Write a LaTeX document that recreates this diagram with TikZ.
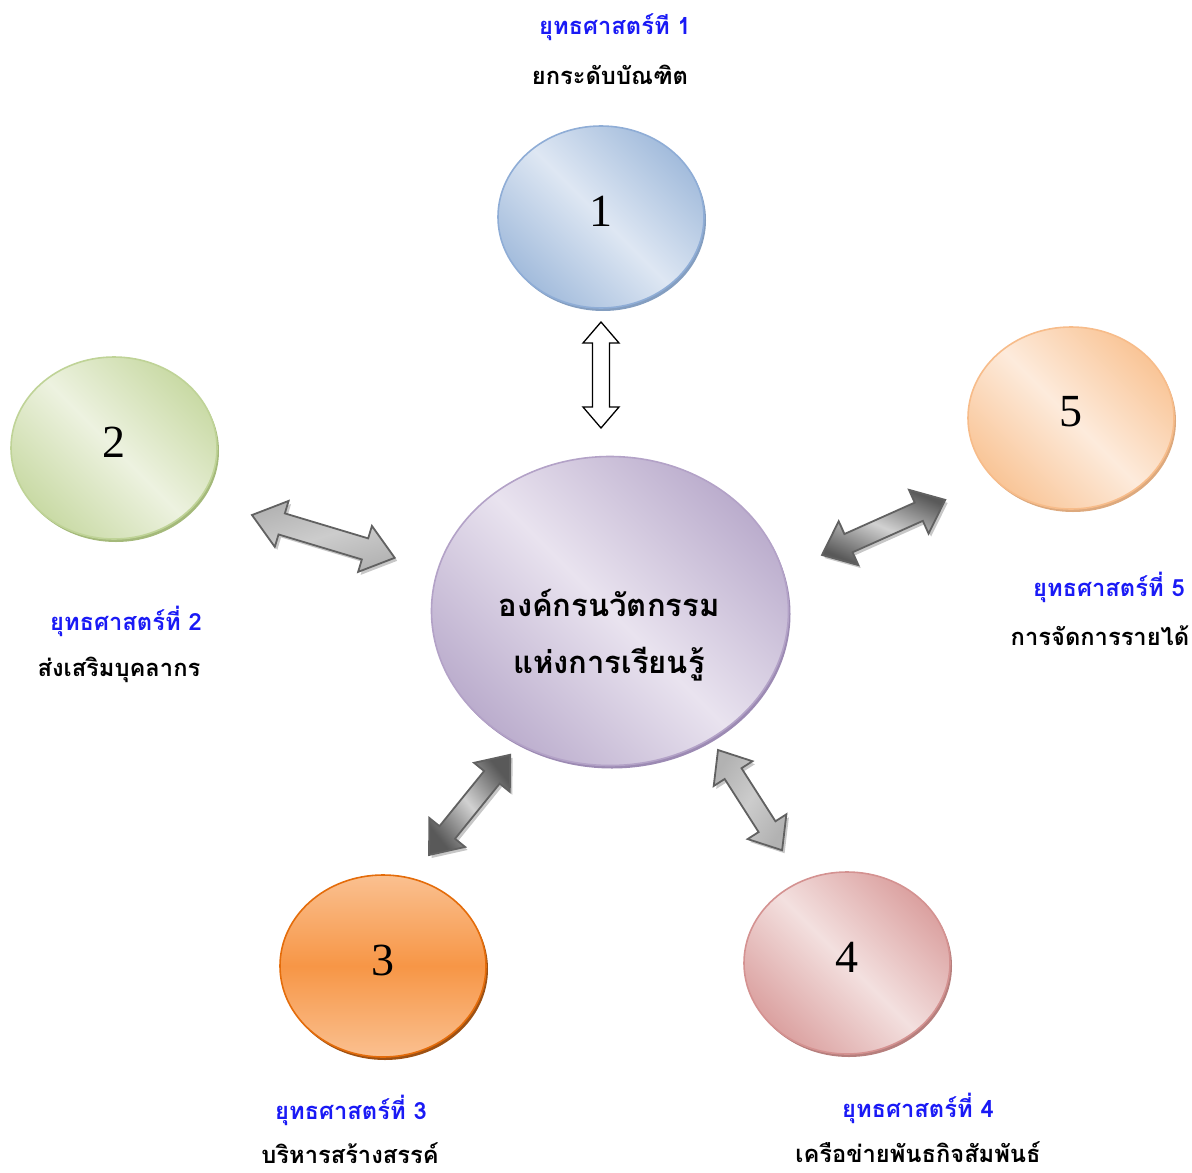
\documentclass[tikz,border=0pt]{standalone}
\usepackage{fontspec}
\setmainfont{Liberation Serif}
\newfontfamily\thai[Script=Thai]{Loma}
\usetikzlibrary{shapes.geometric,shadows}
\definecolor{bluL}{HTML}{DEE7F3}\definecolor{bluD}{HTML}{A3BCDC}\definecolor{bluB}{HTML}{8FADD6}\definecolor{bluS}{HTML}{6F8DB5}
\definecolor{grnL}{HTML}{EDF2E0}\definecolor{grnD}{HTML}{C9DAA5}\definecolor{grnB}{HTML}{BFD397}\definecolor{grnS}{HTML}{94AD63}
\definecolor{orlL}{HTML}{FDEBDC}\definecolor{orlD}{HTML}{F9C597}\definecolor{orlB}{HTML}{F7BC8A}\definecolor{orlS}{HTML}{D79A66}
\definecolor{orL}{HTML}{FAC090}\definecolor{orD}{HTML}{F79646}\definecolor{orB}{HTML}{E46C0A}\definecolor{orS}{HTML}{984807}
\definecolor{pkL}{HTML}{F3E0DF}\definecolor{pkD}{HTML}{DBA1A0}\definecolor{pkB}{HTML}{D49291}\definecolor{pkS}{HTML}{A96866}
\definecolor{puL}{HTML}{E9E3EF}\definecolor{puD}{HTML}{BBADCD}\definecolor{puB}{HTML}{B3A2C7}\definecolor{puS}{HTML}{8B76A6}
\definecolor{labblue}{HTML}{1A1AF5}
\tikzset{
  x=1pt, y=-1pt,
  bubble/.style args={#1/#2/#3/#4}{ellipse, inner sep=0pt, minimum width=206pt, minimum height=182pt,
    draw=#3, line width=1.6pt, left color=#2, right color=#2, middle color=#1, shading angle=-45,
    drop shadow={shadow xshift=2pt, shadow yshift=-3pt, fill=#4, opacity=0.85}},
  num/.style={font=\fontsize{46}{46}\selectfont, inner sep=0pt},
  head/.style={font=\thai\bfseries\fontsize{23.7}{24}\selectfont, text=labblue, inner sep=0pt},
  sub/.style={font=\thai\bfseries\fontsize{23.7}{24}\selectfont, text=black, inner sep=0pt},
  mid/.style={font=\thai\bfseries\fontsize{31}{31}\selectfont, text=black, inner sep=0pt},
  wharr/.style={draw=black, line width=1.3pt, fill=white},
  garrL/.style={draw=black!62, line width=1.8pt, left color=black!30, right color=black!30, middle color=black!20,
    drop shadow={shadow xshift=2.5pt, shadow yshift=-3pt, fill=black, opacity=0.22}},
  garrD/.style={draw=black!62, line width=1.8pt, left color=black!65, right color=black!65, middle color=black!18,
    drop shadow={shadow xshift=2.5pt, shadow yshift=-3pt, fill=black, opacity=0.22}},
  pics/dbl/.style args={#1/#2/#3/#4/#5}{code={
    \path[#5] (0,0) -- (#3,#4) -- (#3,#2) -- ({#1-#3},#2) -- ({#1-#3},#4) -- (#1,0)
      -- ({#1-#3},-#4) -- ({#1-#3},-#2) -- (#3,-#2) -- (#3,-#4) -- cycle;
  }},
}
\begin{document}
\begin{tikzpicture}
\useasboundingbox (0,0) rectangle (1192,1173);
% bubbles
\node[bubble=bluL/bluD/bluB/bluS] (c1) at (601,217) {};
\node[bubble=grnL/grnD/grnB/grnS] (c2) at (114,448) {};
\node[bubble=orlL/orlD/orlB/orlS] (c5) at (1071,418) {};
\node[ellipse, inner sep=0pt, minimum width=206pt, minimum height=182pt, draw=orB, line width=1.6pt,
  top color=orL, bottom color=orL, middle color=orD,
  drop shadow={shadow xshift=2pt, shadow yshift=-3pt, fill=orS, opacity=0.95}] (c3) at (383,966) {};
\node[bubble=pkL/pkD/pkB/pkS] (c4) at (847,963) {};
\node[bubble=puL/puD/puB/puS, minimum width=357pt, minimum height=309pt] (cc) at (610,611) {};
% numbers
\node[num] (n1) at ([yshift=6pt]c1.center) {1};
\node[num] (n2) at ([yshift=6pt]c2.center) {2};
\node[num] (n5) at ([yshift=6pt]c5.center) {5};
\node[num] (n3) at ([yshift=6pt]c3.center) {3};
\node[num] (n4) at ([yshift=6pt]c4.center) {4};
\node[mid] (m1) at (609,603) {องค์กรนวัตกรรม};
\node[mid] (m2) at (609,664) {แห่งการเรียนรู้};
% labels
\node[head] (h1) at (615,27) {ยุทธศาสตร์ที 1};
\node[sub] (s1) at (610,75) {ยกระดับบัณฑิต};
\node[head] (h2) at (126,621) {ยุทธศาสตร์ที่ 2};
\node[sub] (s2) at (119,670) {ส่งเสริมบุคลากร};
\node[head] (h5) at (1109,587) {ยุทธศาสตร์ที่ 5};
\node[sub] (s5) at (1100,636) {การจัดการรายได้};
\node[head] (h3) at (351,1110) {ยุทธศาสตร์ที่ 3};
\node[sub] (s3) at (350,1153) {บริหารสร้างสรรค์};
\node[head] (h4) at (918,1108) {ยุทธศาสตร์ที่ 4};
\node[sub] (s4) at (918,1152) {เครือข่ายพันธกิจสัมพันธ์};
% arrows
\coordinate (a1) at (601,428);
\coordinate (a2) at (252,515);
\coordinate (a5) at (822,555);
\coordinate (a3) at (429,855);
\coordinate (a4) at (718,750);
\pic[rotate=90] at (a1) {dbl=106/8.5/21/18/wharr};
\pic[rotate=-16.7] at (a2) {dbl=149/11/31/24/{garrL,shading angle=16.7}};
\pic[rotate=24.1] at (a5) {dbl=135/10/29/24/{garrD,shading angle=-24.1}};
\pic[rotate=51] at (a3) {dbl=129/10/29/23/{garrD,shading angle=-51}};
\pic[rotate=-57.4] at (a4) {dbl=119/10/28/23/{garrL,shading angle=57.4}};
\end{tikzpicture}
\end{document}
